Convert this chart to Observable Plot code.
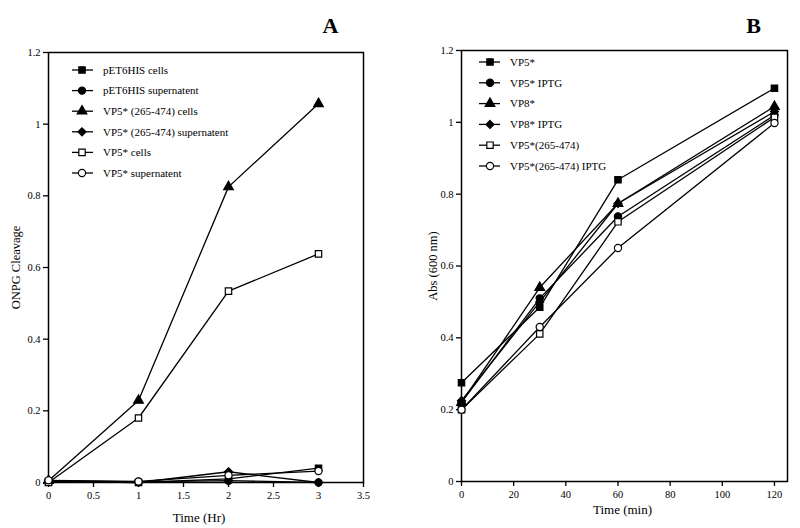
<!DOCTYPE html>
<html><head><meta charset="utf-8">
<script src="https://cdn.jsdelivr.net/npm/d3@7"></script>
<script src="https://cdn.jsdelivr.net/npm/@observablehq/plot@0.6"></script>
<style>
body{margin:0;background:#fff;}
#wrap{position:relative;width:800px;height:528px;}
.panel{position:absolute;top:0;width:400px;height:528px;}
</style></head><body><div id="wrap"></div>
<script>
// ---------- Panel A data ----------
const timeA = [0, 1, 2, 3];
const seriesA = ["pET6HIS cells", "pET6HIS supernatent", "VP5* (265-474) cells", "VP5* (265-474) supernatent", "VP5* cells", "VP5* supernatent"];
const pET6HIScells = [0.003, 0.0, 0.01, 0.04];
const pET6HISsuper = [0.005, 0.002, 0.005, 0.0];
const vp5tCells = [0.005, 0.229, 0.825, 1.057];
const vp5tSuper = [0.004, 0.0, 0.03, 0.0];
const vp5Cells = [0.0, 0.18, 0.534, 0.638];
const vp5Super = [0.006, 0.003, 0.02, 0.032];
const valuesA = [pET6HIScells, pET6HISsuper, vp5tCells, vp5tSuper, vp5Cells, vp5Super];
const xTicksA = [0, 0.5, 1, 1.5, 2, 2.5, 3, 3.5];

// ---------- Panel B data ----------
const timeB = [0, 30, 60, 120];
const seriesB = ["VP5*", "VP5* IPTG", "VP8*", "VP8* IPTG", "VP5*(265-474)", "VP5*(265-474) IPTG"];
const vp5 = [0.275, 0.485, 0.84, 1.095];
const vp5IPTG = [0.22, 0.51, 0.738, 1.02];
const vp8 = [0.22, 0.54, 0.774, 1.044];
const vp8IPTG = [0.225, 0.50, 0.774, 1.03];
const vp5t = [0.2, 0.411, 0.723, 1.014];
const vp5tIPTG = [0.2, 0.43, 0.65, 0.998];
const valuesB = [vp5, vp5IPTG, vp8, vp8IPTG, vp5t, vp5tIPTG];
const xTicksB = [0, 20, 40, 60, 80, 100, 120];

const yTicks = [0, 0.2, 0.4, 0.6, 0.8, 1, 1.2];

// styles (shared by both panels)
const symbols = ["square", "circle", "triangle", "diamond2", "square", "circle"];
const fills = ["black", "black", "black", "black", "white", "white"];

const W = 400, H = 528;
const FONT = "'Liberation Serif', 'Times New Roman', serif";
const d3sym = {square: d3.symbolSquare, circle: d3.symbolCircle, triangle: d3.symbolTriangle, diamond2: d3.symbolDiamond2};
const R = 3.6;

function panel(o) {
  const rows = o.names.flatMap((s, i) => o.time.map((t, j) => ({series: s, t, v: o.values[i][j]})));
  return Plot.plot({
    width: W, height: H,
    marginLeft: o.m[0], marginRight: o.m[1], marginTop: o.m[2], marginBottom: o.m[3],
    style: {fontFamily: FONT, fontSize: "10.5px", background: "white", color: "black"},
    x: {domain: o.xDomain},
    y: {domain: [0, 1.2]},
    symbol: {domain: o.names, range: symbols},
    color: {domain: o.names, range: fills},
    marks: [
      Plot.frame({stroke: "black", strokeWidth: 1.5}),
      Plot.axisX({ticks: o.xTicks, tickFormat: d => String(d), tickSize: 5, tickPadding: 4, label: null, strokeWidth: 1.3}),
      Plot.axisY({ticks: yTicks, tickFormat: d => String(d), tickSize: 5, tickPadding: 3, label: null, strokeWidth: 1.3}),
      Plot.line(rows, {x: "t", y: "v", z: "series", stroke: "black", strokeWidth: 1.3}),
      Plot.dot(rows, {x: "t", y: "v", symbol: "series", fill: "series", stroke: "black", strokeWidth: 1.2, r: R}),
      Plot.text([o.xLabel], {frameAnchor: "bottom", text: d => d, dx: o.xl[0], dy: o.xl[1], fontSize: 13, textAnchor: "middle", lineAnchor: "middle"}),
      Plot.text([o.yLabel], {frameAnchor: "left", text: d => d, rotate: -90, dx: o.yl, fontSize: 12.5, textAnchor: "middle", lineAnchor: "middle"}),
      Plot.text([o.tag], {frameAnchor: "top-right", text: d => d, dx: o.tagPos[0], dy: o.tagPos[1], fontSize: 22, fontWeight: "bold", textAnchor: "middle", lineAnchor: "middle"})
    ]
  });
}

function legend(names, L) {
  const svg = d3.create("svg").attr("width", W).attr("height", H)
    .style("position", "absolute").style("left", "0px").style("top", "0px").style("pointer-events", "none");
  names.forEach((n, i) => {
    const y = L.y0 + i * L.dy;
    const g = svg.append("g");
    g.append("line").attr("x1", L.x1).attr("x2", L.x2).attr("y1", y).attr("y2", y).attr("stroke", "black").attr("stroke-width", 1.3);
    g.append("path").attr("d", d3.symbol(d3sym[symbols[i]], Math.PI * R * R)())
      .attr("transform", `translate(${L.cx},${y})`).attr("fill", fills[i]).attr("stroke", "black").attr("stroke-width", 1.2);
    g.append("text").attr("x", L.tx).attr("y", y).attr("dy", "0.35em").attr("font-family", FONT).attr("font-size", 11).text(n);
  });
  return svg.node();
}

const wrap = document.getElementById("wrap");
const pa = document.createElement("div"); pa.className = "panel"; pa.style.left = "0px";
const pb = document.createElement("div"); pb.className = "panel"; pb.style.left = "400px";
wrap.append(pa, pb);

pa.append(panel({time: timeA, names: seriesA, values: valuesA, xDomain: [0, 3.5], xTicks: xTicksA,
  xLabel: "Time (Hr)", yLabel: "ONPG Cleavage", tag: "A",
  m: [48, 37, 52, 46], xl: [-7, 35], yl: -33, tagPos: [-33, -27]}));
pa.append(legend(seriesA, {x1: 72, x2: 93, cx: 82, tx: 103, y0: 70, dy: 20.6}));

pb.append(panel({time: timeB, names: seriesB, values: valuesB, xDomain: [0, 125], xTicks: xTicksB,
  xLabel: "Time (min)", yLabel: "Abs (600 nm)", tag: "B",
  m: [61, 13, 50, 47], xl: [-2, 28], yl: -29, tagPos: [-34, -25]}));
pb.append(legend(seriesB, {x1: 79, x2: 100, cx: 90, tx: 110, y0: 62, dy: 20.8}));
</script>
</body></html>
